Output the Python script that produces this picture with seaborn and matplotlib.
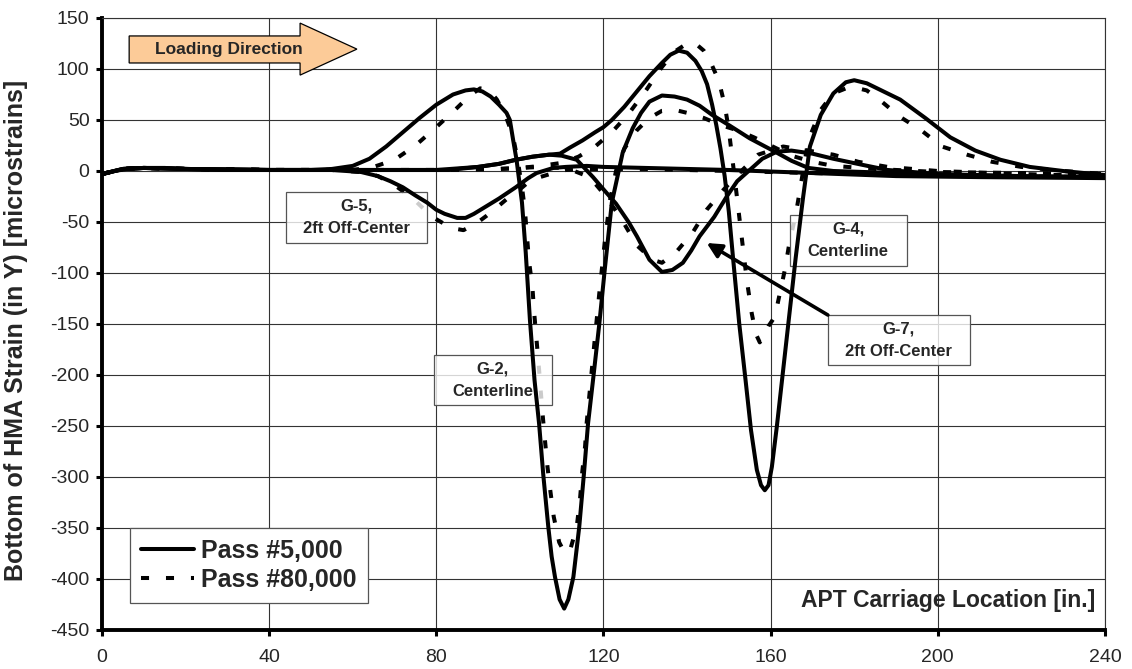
import matplotlib
matplotlib.use("Agg")
import matplotlib.pyplot as plt
from matplotlib.lines import Line2D
from matplotlib.patches import Polygon, Rectangle
import pandas as pd
import seaborn as sns

# Strain traces (microstrains) vs APT carriage location (in.)
G2_5K_X = [0, 3, 6, 10, 15, 20, 30, 40, 50, 55, 60, 64, 68, 72, 76, 80, 84, 87, 89, 91, 93, 95, 96.8,
           97.6, 98.4, 99.2, 100.5, 101.4, 102.4, 103.5, 104.6, 105.6, 106.8, 107.6, 108.4, 109.5, 110.6,
           111.6, 112.8, 114.2, 115.3, 116.3, 117.5, 119, 120.3, 122, 124.6, 127, 129, 131, 134, 137, 140,
           143, 146, 150, 155, 161, 165, 169, 175, 190, 215, 240]
G2_5K_Y = [-3, 0, 2, 3, 3, 2, 1, 1, 1, 2, 5, 12, 24, 38, 52, 65, 75, 79, 80, 78, 73, 65, 57,
           50, 30, 11, -31, -80, -146, -205, -248, -298, -349, -378, -398, -420, -429,
           -420, -398, -349, -298, -248, -205, -150, -97, -31, 18, 42, 57, 68, 74, 73, 70,
           64, 55, 45, 32, 19, 10, 3, 0, -2, -5, -6]

G2_80K_X = [0, 5, 10, 20, 40, 60, 65, 70, 75, 80, 85, 88, 90.5, 92.5, 94.5, 96.5, 98.3, 99.5, 100.5,
            101.2, 101.7, 102.2, 103, 103.4, 104.5, 105.4, 106.0, 106.6, 107.3, 108.1, 109.4, 110.8,
            112.0, 113.6, 114.4, 114.9, 115.6, 116.0, 116.6, 117.8, 119, 120.3, 121.5, 123, 125, 128,
            131, 134, 137, 140, 144, 148, 152, 156, 160, 165, 170, 175, 185, 200, 240]
G2_80K_Y = [-3, 2, 3, 2, 1, 1, 4, 11, 25, 43, 62, 74, 81, 80, 70, 55, 35, 10, -16,
            -38, -64, -89, -114, -138, -190, -237, -264, -290, -314, -339, -364, -375,
            -372, -349, -321, -296, -270, -246, -221, -170, -120, -70, -30, 0, 22, 40,
            52, 59, 60, 57, 52, 45, 40, 33, 25, 15, 9, 5, 2, -1, -3]

G4_5K_X = [0, 5, 10, 20, 40, 60, 80, 90, 95, 99, 103, 107, 109.6, 112, 115, 118, 120, 122, 125, 128,
           131, 134, 136, 138, 140, 142, 143.5, 144.8, 146, 147, 148, 149, 150, 151, 152.5, 154,
           155.3, 156.7, 157.7, 158.6, 159.5, 160.3, 161.5, 163, 164.5, 166, 167.7, 169.4, 172, 175,
           178, 180, 183, 186, 191, 197, 203, 209, 215, 222, 230, 240]
G4_5K_Y = [-3, 2, 3, 2, 1, 1, 1, 4, 7, 11, 14, 16, 17, 23, 30, 38, 43, 50, 63, 78,
           93, 106, 114, 118, 116, 108, 98, 85, 65, 45, 22, -5, -40, -85, -150, -205,
           -254, -293, -308, -313, -308, -290, -250, -195, -140, -85, -28, 24, 55, 76,
           87, 89, 86, 80, 70, 52, 33, 20, 11, 4, 0, -4]

G4_80K_X = [0, 5, 10, 20, 40, 60, 80, 95, 100, 105, 110, 114, 118, 122, 126, 130, 134, 137, 140, 142,
            144, 145.5, 147, 147.8, 149, 150, 151.2, 152.5, 154.3, 155.5, 156.5, 157.4, 158.3, 159.5,
            161, 163.4, 164.6, 166, 167, 169, 172, 175, 178, 180, 183, 186, 191, 196, 201, 207, 213,
            220, 230, 240]
G4_80K_Y = [-3, 2, 3, 2, 1, 1, 1, 2, 3, 5, 8, 14, 24, 38, 56, 78, 102, 117, 125, 125,
            118, 108, 94, 85, 65, 40, 0, -45, -107, -140, -160, -168, -163, -152,
            -143, -97, -68, -43, -19, 30, 60, 76, 81, 82, 79, 70, 53, 40, 24, 16, 9,
            4, 0, -3]

G5_5K_X = [0, 5, 10, 20, 40, 55, 62, 66, 69, 72, 75, 77.8, 80, 82, 85, 87, 89, 91, 95, 99, 102, 104,
           108, 111, 116, 120, 130, 150, 170, 190, 210, 240]
G5_5K_Y = [-3, 2, 3, 2, 1, 1, -1, -5, -10, -16, -24, -31, -38, -42, -46, -46, -42, -37, -27, -16, -7, -2,
           3, 4, 5, 4, 3, 1, -2, -5, -6, -7]

G5_80K_X = [0, 5, 10, 20, 40, 55, 62, 66, 69.4, 74.4, 79, 83.7, 86.5, 89.7, 92, 94.7, 97, 100, 102,
            104.8, 108, 111, 116, 130, 150, 170, 190, 210, 240]
G5_80K_Y = [-3, 2, 3, 2, 1, 1, -1, -5, -12, -27, -45, -56, -58, -51, -44, -35, -27, -18, -11,
            -6, -2, 1, 2, 2, 0, -2, -4, -5, -6]

G7_5K_X = [0, 5, 10, 20, 40, 60, 75, 83, 90, 95, 99, 103, 107, 110, 113.6, 117.5, 120, 123, 126, 128,
           131, 134, 136.5, 139, 141, 143, 146.5, 149.5, 152, 155, 158, 161.5, 165, 170, 175, 182, 188,
           200, 220, 240]
G7_5K_Y = [-3, 2, 3, 2, 1, 1, 1, 1, 4, 7, 11, 14, 16, 15, 11, -6, -18, -32, -50, -64,
           -87, -99, -97, -90, -78, -64, -45, -25, -10, 1, 12, 19, 20, 17, 12, 6, 1,
           -3, -5, -6]

G7_80K_X = [0, 5, 10, 20, 40, 60, 80, 95, 100, 105, 110, 113, 116.7, 120, 124, 128, 131.8, 134, 137.5,
            141.4, 144.7, 148.6, 152, 157, 163, 169, 175, 181, 188, 200, 220, 240]
G7_80K_Y = [-3, 2, 3, 2, 1, 1, 1, 2, 3, 4, 3, 0, -6, -22, -45, -73, -87, -90, -79,
            -60, -38, -19, -4, 16, 24, 20, 16, 9, 4, 0, -3, -5]

PASSES = ["Pass #5,000", "Pass #80,000"]
X_TICKS = [0, 40, 80, 120, 160, 200, 240]
Y_TICKS = list(range(-450, 151, 50))

series = [
    ("G-2", PASSES[0], G2_5K_X, G2_5K_Y), ("G-2", PASSES[1], G2_80K_X, G2_80K_Y),
    ("G-4", PASSES[0], G4_5K_X, G4_5K_Y), ("G-4", PASSES[1], G4_80K_X, G4_80K_Y),
    ("G-5", PASSES[0], G5_5K_X, G5_5K_Y), ("G-5", PASSES[1], G5_80K_X, G5_80K_Y),
    ("G-7", PASSES[0], G7_5K_X, G7_5K_Y), ("G-7", PASSES[1], G7_80K_X, G7_80K_Y),
]
df = pd.concat(
    [pd.DataFrame({"location": xs, "strain": ys, "gauge": g, "pass": p}) for g, p, xs, ys in series],
    ignore_index=True,
)

sns.set_style("white")
plt.rcParams["font.family"] = ["Liberation Sans", "DejaVu Sans"]
plt.rcParams["axes.unicode_minus"] = False

fig = plt.figure(figsize=(11.32, 6.69), dpi=100)
ax = fig.add_axes([0.0901, 0.0583, 0.886, 0.9148])

DASH = (0, (2.0, 4.2))
LW = 2.9

# 80,000-pass traces (dashed) sit beneath the gauge labels
sns.lineplot(data=df[df["pass"] == PASSES[1]], x="location", y="strain", units="gauge",
             estimator=None, color="black", lw=LW, linestyle=DASH, legend=False, ax=ax, zorder=2)

# gauge labels
labels = [
    ("G-5,\n2ft Off-Center", 44.0, 77.8, -70.6, -20.6),
    ("G-2,\nCenterline", 79.4, 107.7, -229.4, -180.4),
    ("G-4,\nCenterline", 164.6, 192.6, -93.1, -43.1),
    ("G-7,\n2ft Off-Center", 173.7, 207.7, -190.2, -141.2),
]
for text, x0, x1, y0, y1 in labels:
    ax.add_patch(Rectangle((x0, y0), x1 - x0, y1 - y0, facecolor=(1, 1, 1, 0.8),
                           edgecolor="#555555", lw=0.9, zorder=3))
    ax.text((x0 + x1) / 2, (y0 + y1) / 2, text, ha="center", va="center", fontsize=12,
            fontweight="bold", linespacing=1.6, zorder=5)

# 5,000-pass traces (solid)
sns.lineplot(data=df[df["pass"] == PASSES[0]], x="location", y="strain", units="gauge",
             estimator=None, color="black", lw=LW, linestyle="-", legend=False, ax=ax, zorder=4)

# pointer to the G-7 trace
ax.annotate("", xy=(144.7, -70.6), xytext=(173.7, -141.2),
            arrowprops=dict(arrowstyle="-|>", lw=2.6, color="black", mutation_scale=22,
                            shrinkA=0, shrinkB=0), zorder=5)

# loading direction block arrow
arrow = Polygon([(6.5, 105.9), (47.4, 105.9), (47.4, 94.0), (61.0, 119.5), (47.4, 145.0),
                 (47.4, 132.4), (6.5, 132.4)], closed=True, facecolor="#FCCB98",
                edgecolor="black", lw=0.9, zorder=5)
ax.add_patch(arrow)
ax.text(30.4, 119.2, "Loading Direction", ha="center", va="center", fontsize=12.5,
        fontweight="bold", zorder=6)

ax.set_xlim(0, 240)
ax.set_ylim(-450, 150)
ax.set_xticks(X_TICKS)
ax.set_yticks(Y_TICKS)
ax.grid(True, color="#333333", lw=0.8)
ax.set_axisbelow(True)
for side in ("left", "bottom"):
    ax.spines[side].set_linewidth(2.8)
    ax.spines[side].set_color("black")
for side in ("top", "right"):
    ax.spines[side].set_linewidth(0.8)
    ax.spines[side].set_color("#333333")
ax.tick_params(axis="both", direction="out", length=4, width=2.2, color="black",
               labelsize=14, left=True, bottom=True)
ax.tick_params(axis="x", pad=10)
ax.tick_params(axis="y", pad=5)

ax.set_ylabel("Bottom of HMA Strain (in Y) [microstrains]", fontsize=18, fontweight="bold")
ax.yaxis.set_label_coords(-0.074, 0.49)
ax.set_xlabel("APT Carriage Location [in.]", fontsize=16.5, fontweight="bold")
ax.xaxis.label.set_ha("right")
ax.xaxis.label.set_va("center")
ax.xaxis.set_label_coords(0.99, 0.049)

handles = [Line2D([], [], color="black", lw=LW, linestyle="-"),
           Line2D([], [], color="black", lw=LW, linestyle=DASH)]
leg = ax.legend(handles, PASSES, loc="lower left", bbox_to_anchor=(0.028, 0.044),
                borderaxespad=0, prop={"weight": "bold", "size": 18}, handlelength=2.1,
                handletextpad=0.3, borderpad=0.45, labelspacing=0.2, fancybox=False,
                framealpha=1, edgecolor="#555555")
leg.get_frame().set_linewidth(0.9)
leg.set_zorder(7)

fig.savefig("out.png", dpi=100)
